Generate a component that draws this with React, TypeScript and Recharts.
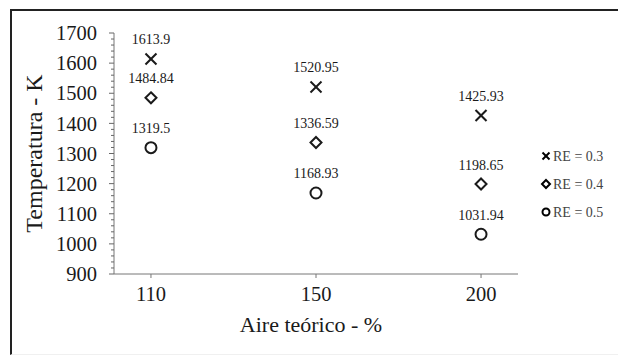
import React from 'react';
import {
  ScatterChart,
  Scatter,
  XAxis,
  YAxis,
  LabelList,
} from 'recharts';

const airPercent = ['110', '150', '200'];
const tempRe03 = [1613.9, 1520.95, 1425.93];
const tempRe04 = [1484.84, 1336.59, 1198.65];
const tempRe05 = [1319.5, 1168.93, 1031.94];
const seriesNames = ['RE = 0.3', 'RE = 0.4', 'RE = 0.5'];

const yTicks: number[] = [];
for (let v = 900; v <= 1700; v += 20) yTicks.push(v);

const toRows = (vals: number[]) => vals.map((t, i) => ({ x: i, t }));

const FONT = '"Liberation Serif", "Times New Roman", serif';
const INK = '#1a1a1a';

// marker shapes
const CrossShape = (p: any) => (
  <g stroke={INK} strokeWidth={2}>
    <line x1={p.cx - 5.5} y1={p.cy - 5.5} x2={p.cx + 5.5} y2={p.cy + 5.5} />
    <line x1={p.cx - 5.5} y1={p.cy + 5.5} x2={p.cx + 5.5} y2={p.cy - 5.5} />
  </g>
);
const DiamondShape = (p: any) => (
  <polygon
    points={`${p.cx},${p.cy - 5.5} ${p.cx + 5.5},${p.cy} ${p.cx},${p.cy + 5.5} ${p.cx - 5.5},${p.cy}`}
    fill="#fff"
    stroke={INK}
    strokeWidth={2}
  />
);
const CircleShape = (p: any) => (
  <circle cx={p.cx} cy={p.cy} r={5.5} fill="#fff" stroke={INK} strokeWidth={2} />
);

const YTick = (props: any) => {
  const { x, y, payload } = props;
  const major = payload.value % 100 === 0;
  return (
    <g>
      <line x1={x - (major ? 5 : 3)} y1={y} x2={x} y2={y} stroke="#666" strokeWidth={1} />
      {major && (
        <text x={x - 17} y={y} dy="0.35em" textAnchor="end" fontSize={20.5} fill={INK} fontFamily={FONT}>
          {payload.value}
        </text>
      )}
    </g>
  );
};

const legendIcons = [
  (x: number, y: number) => (
    <g stroke="#000" strokeWidth={2}>
      <line x1={x - 3.5} y1={y - 3.5} x2={x + 3.5} y2={y + 3.5} />
      <line x1={x - 3.5} y1={y + 3.5} x2={x + 3.5} y2={y - 3.5} />
    </g>
  ),
  (x: number, y: number) => (
    <polygon
      points={`${x},${y - 4} ${x + 4},${y} ${x},${y + 4} ${x - 4},${y}`}
      fill="#fff"
      stroke="#000"
      strokeWidth={2}
    />
  ),
  (x: number, y: number) => <circle cx={x} cy={y} r={3.5} fill="#fff" stroke="#000" strokeWidth={2} />,
];

// legend sits outside the chart so it doesn't eat into the plot area
const LegendBox = () => (
  <svg width={80} height={80} style={{ position: 'absolute', left: 538, top: 146 }}>
    {seriesNames.map((name, i) => (
      <g key={name}>
        {legendIcons[i](8, 10 + i * 28)}
        <text x={15} y={10 + i * 28} dy="0.35em" fontSize={14} fill="#444" fontFamily={FONT}>
          {name}
        </text>
      </g>
    ))}
  </svg>
);

export default function App() {
  return (
    <div
      style={{
        position: 'fixed',
        left: 0,
        top: 0,
        width: 618,
        height: 355,
        background: '#fff',
        overflow: 'hidden',
      }}
    >
      <div
        style={{
          position: 'absolute',
          left: 10,
          top: 9,
          width: 700,
          height: 343,
          borderLeft: '2px solid #222',
          borderTop: '2px solid #222',
          borderBottom: '1px solid #f0f0f0',
        }}
      />
      <ScatterChart
        width={618}
        height={355}
        margin={{ top: 33, right: 100, bottom: 51, left: 0 }}
        style={{ position: 'absolute', left: 0, top: 0 }}
      >
        <XAxis
          type="number"
          dataKey="x"
          domain={[-0.224, 2.224]}
          ticks={[0, 1, 2]}
          tickFormatter={(i: number) => airPercent[i]}
          height={30}
          stroke="#777"
          tickSize={4}
          tickMargin={8}
          tick={{ fontSize: 20.5, fill: INK, fontFamily: FONT }}
          label={{
            value: 'Aire teórico - %',
            position: 'insideBottom',
            offset: -28,
            dx: -5,
            fontSize: 22,
            fill: INK,
            fontFamily: FONT,
          }}
        />
        <YAxis
          type="number"
          dataKey="t"
          domain={[900, 1700]}
          ticks={yTicks}
          interval={0}
          width={114}
          stroke="#777"
          tickSize={0}
          tickMargin={0}
          tick={<YTick />}
          label={{
            value: 'Temperatura - K',
            angle: -90,
            position: 'insideLeft',
            offset: 33,
            fontSize: 24,
            fill: INK,
            fontFamily: FONT,
            style: { textAnchor: 'middle' },
          }}
        />
        <Scatter name={seriesNames[0]} data={toRows(tempRe03)} shape={<CrossShape />} isAnimationActive={false}>
          <LabelList dataKey="t" position="top" offset={10} fontSize={14} fill={INK} fontFamily={FONT} />
        </Scatter>
        <Scatter name={seriesNames[1]} data={toRows(tempRe04)} shape={<DiamondShape />} isAnimationActive={false}>
          <LabelList dataKey="t" position="top" offset={10} fontSize={14} fill={INK} fontFamily={FONT} />
        </Scatter>
        <Scatter name={seriesNames[2]} data={toRows(tempRe05)} shape={<CircleShape />} isAnimationActive={false}>
          <LabelList dataKey="t" position="top" offset={10} fontSize={14} fill={INK} fontFamily={FONT} />
        </Scatter>
      </ScatterChart>
      <LegendBox />
    </div>
  );
}
